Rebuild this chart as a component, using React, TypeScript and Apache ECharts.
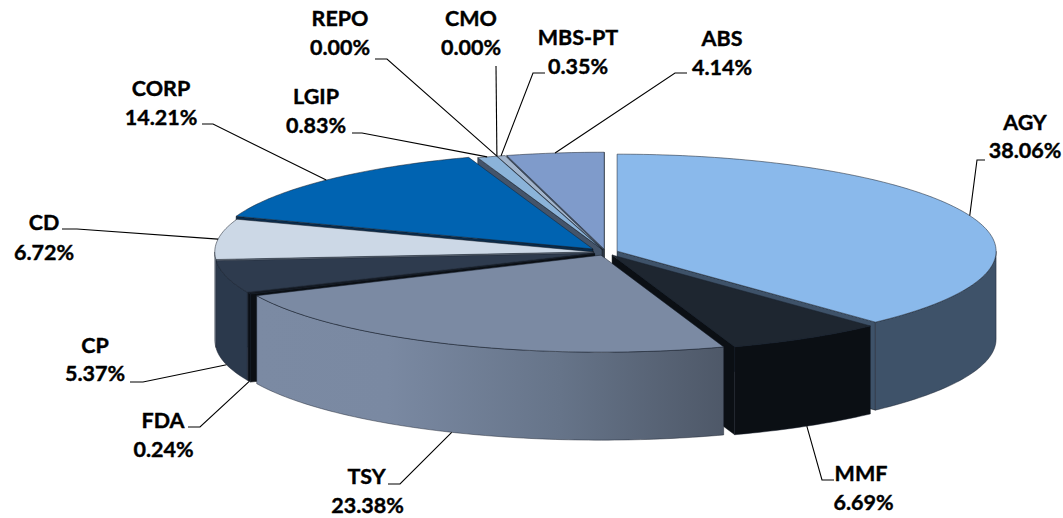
import React, { useEffect, useRef } from "react";
import * as echarts from "echarts";

const categories = ["AGY", "MMF", "TSY", "FDA", "CP", "CD", "CORP", "LGIP", "REPO", "CMO", "MBS-PT", "ABS"];
const values = [38.06, 6.69, 23.38, 0.24, 5.37, 6.72, 14.21, 0.83, 0.0, 0.0, 0.35, 4.14];

// styling, by category order
const topColors = ["#8AB9EB", "#1E2630", "#7B8AA3", "#12161C", "#2E3B4E", "#CCD8E6", "#0063B1", "#8BB3D9", "#8BB3D9", "#8BB3D9", "#A3B5CC", "#7F9BCB"];
const wallColors = ["#3E5269", "#0B0F14", "#7B8AA3", "#0B0F14", "#2B394C", "#8A96A6", "#0A2B4A", "#44546A", "#44546A", "#44546A", "#55657A", "#44546A"];
const explodeScale = [1, 1, 1, 1, 1, 1, 1.5, 1, 1, 1, 1, 1];
const gradientCategory = "TSY";

// geometry of the projected pie
const CX = 605.8, CY = 252.3, RX = 379, RY = 97, DEPTH = 88, EXPLODE = 0.032;

// label layout: name centre, value centre, then leader points from the label towards the slice
const labelCentres: number[][] = [
  [1025, 122, 1025, 150], [861, 473, 863.5, 502], [366.5, 476, 367.5, 505], [163, 420, 163.5, 449],
  [95, 345, 95, 373], [44, 222, 44, 252], [161, 88, 161, 117], [316, 96, 316, 125],
  [340, 18, 340, 47], [471, 18, 471, 47], [578, 37, 578, 66], [722, 38, 722, 67],
];
const leaderBends: number[][][] = [
  [[985, 160], [977, 160]], [[834, 480], [822, 480]], [[388, 484], [400, 484]], [[188, 427], [200, 427]],
  [[130, 382], [143, 382]], [[62, 229], [77, 229]], [[202, 124], [213, 124]], [[352, 133], [362, 133]],
  [[375, 59], [387, 59]], [[496, 66]], [[545, 73], [533, 73]], [[687, 73], [675, 73]],
];

const total = values.reduce((a, b) => a + b, 0);
let running = 0;
const slices = values.map((v, i) => {
  const a0 = (running / total) * 2 * Math.PI;
  running += v;
  const a1 = (running / total) * 2 * Math.PI;
  const mid = (a0 + a1) / 2;
  const ax = CX + explodeScale[i] * EXPLODE * RX * Math.sin(mid);
  const ay = CY - explodeScale[i] * EXPLODE * RY * Math.cos(mid);
  return { i, a0, a1, mid, ax, ay };
});
type Slice = (typeof slices)[number];
const drawOrder = [...slices].sort((p, q) => Math.cos(q.mid) - Math.cos(p.mid));

const rim = (s: Slice, a: number, drop = 0) => [s.ax + RX * Math.sin(a), s.ay - RY * Math.cos(a) + drop];

function arcPoints(s: Slice, from: number, to: number, drop = 0) {
  const n = Math.max(1, Math.ceil((to - from) / (Math.PI / 180)));
  const pts: number[][] = [];
  for (let k = 0; k <= n; k++) pts.push(rim(s, from + ((to - from) * k) / n, drop));
  return pts;
}

function sliceShapes(s: Slice) {
  const children: any[] = [];
  if (s.a1 - s.a0 <= 0) return children;
  const wall = wallColors[s.i];
  const edge = "rgba(25,32,44,0.75)";
  const radial = (a: number) => ({
    type: "polygon",
    shape: { points: [[s.ax, s.ay], rim(s, a), rim(s, a, DEPTH), [s.ax, s.ay + DEPTH]] },
    style: { fill: wall, stroke: "rgba(10,14,20,0.8)", lineWidth: 0.6 },
  });
  if (Math.sin(s.a0) < -1e-6) children.push(radial(s.a0));
  if (Math.sin(s.a1) > -1e-6 || s.a1 > 6.28) children.push(radial(s.a1));
  const from = Math.max(s.a0, Math.PI / 2);
  const to = Math.min(s.a1, (3 * Math.PI) / 2);
  if (to > from) {
    const top = arcPoints(s, from, to);
    const bottom = arcPoints(s, from, to, DEPTH).reverse();
    const fill =
      categories[s.i] === gradientCategory
        ? new echarts.graphic.LinearGradient(1, 0, 0, 0, [
            { offset: 0, color: "#4E5868" },
            { offset: 0.35, color: "#667489" },
            { offset: 0.72, color: "#7A89A2" },
            { offset: 1, color: "#7B8AA3" },
          ])
        : wall;
    children.push({
      type: "polygon",
      shape: { points: [...top, ...bottom] },
      style: { fill, stroke: edge, lineWidth: 0.6 },
    });
  }
  children.push({
    type: "polygon",
    shape: { points: [[s.ax, s.ay], ...arcPoints(s, s.a0, s.a1)] },
    style: { fill: topColors[s.i], stroke: edge, lineWidth: 0.7 },
  });
  return children;
}

function labelShapes(s: Slice) {
  const c = labelCentres[s.i];
  const front = Math.cos(s.mid) < 0;
  const anchor = rim(s, s.mid, front ? DEPTH : 0);
  const font = { fontFamily: "Lato", fontWeight: "bold", fontSize: 21.5, fill: "#000", stroke: "#000", lineWidth: 0.4, align: "center", verticalAlign: "middle" };
  return [
    {
      type: "polyline",
      shape: { points: [...leaderBends[s.i], anchor] },
      style: { fill: "none", stroke: "#000", lineWidth: 1.1 },
    },
    { type: "text", x: c[0], y: c[1], style: { ...font, text: categories[s.i] } },
    { type: "text", x: c[2], y: c[3], style: { ...font, text: values[s.i].toFixed(2) + "%" } },
  ];
}

export default function App() {
  const ref = useRef<HTMLDivElement>(null);
  useEffect(() => {
    document.body.style.margin = "0";
    const chart = echarts.init(ref.current!, undefined, { renderer: "svg" });
    chart.setOption({
      animation: false,
      backgroundColor: "#fff",
      series: [
        {
          type: "custom",
          coordinateSystem: "none",
          silent: true,
          data: drawOrder.map((s) => [values[s.i]]),
          renderItem: (params: any) => ({ type: "group", children: sliceShapes(drawOrder[params.dataIndex]) }),
        },
        {
          type: "custom",
          coordinateSystem: "none",
          silent: true,
          z: 5,
          data: slices.map((s) => [values[s.i]]),
          renderItem: (params: any) => ({ type: "group", children: labelShapes(slices[params.dataIndex]) }),
        },
      ],
    });
    return () => chart.dispose();
  }, []);
  return <div ref={ref} style={{ width: 1063, height: 518 }} />;
}
